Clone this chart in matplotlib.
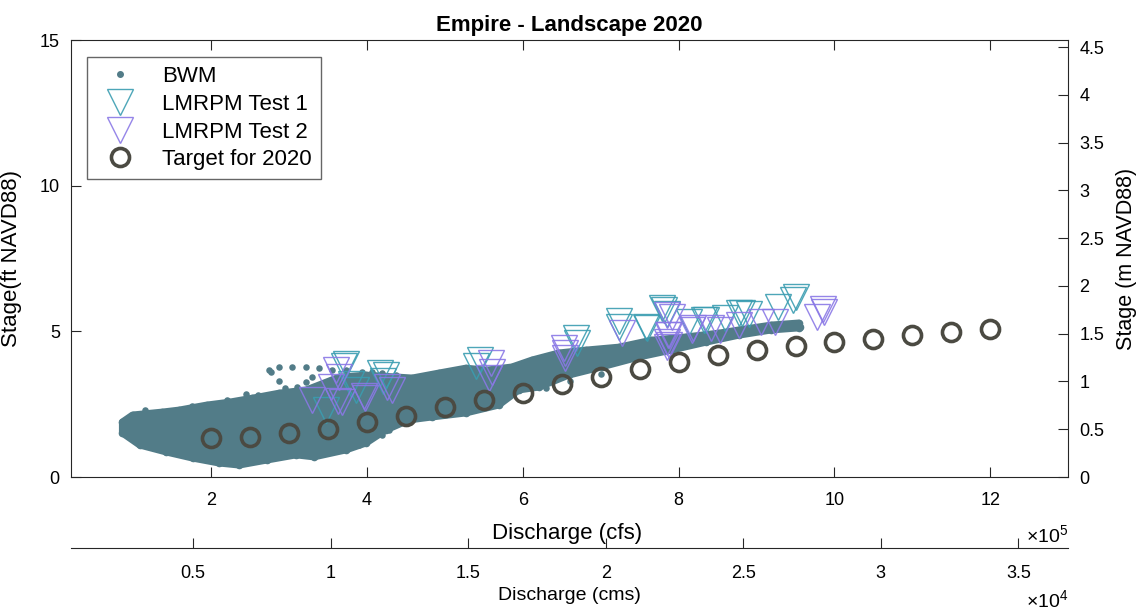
import matplotlib.pyplot as plt
import numpy as np

plt.rcParams['font.family'] = ['Liberation Sans', 'DejaVu Sans']
plt.rcParams['mathtext.fontset'] = 'custom'
plt.rcParams['mathtext.rm'] = 'Liberation Sans'

FT2M = 0.3048
CFS2CMS = 0.0283168

# BWM model cloud: outline of the dense band (discharge in 1e5 cfs, stage in ft)
bwm_outline_x = [0.86, 0.99, 1.37, 1.59, 1.94, 2.23, 2.53, 2.87, 3.22, 3.64, 3.99, 4.58,
                 4.92, 5.27, 5.53, 5.86, 6.12, 6.46, 6.81, 7.23, 7.65, 8.09, 8.51, 8.77,
                 9.19, 9.54, 9.56, 9.54, 9.19, 8.77, 8.35, 7.91, 7.49, 7.01, 6.59, 6.21,
                 5.95, 5.69, 5.27, 4.83, 4.54, 4.24, 3.99, 3.73, 3.32, 3.09, 2.71, 2.36,
                 2.10, 1.76, 1.42, 1.08, 0.86]
bwm_outline_y = [1.89, 2.13, 2.23, 2.30, 2.47, 2.57, 2.71, 2.88, 2.99, 3.43, 3.50, 3.40,
                 3.57, 3.74, 3.67, 3.78, 4.02, 4.26, 4.36, 4.46, 4.70, 4.81, 4.94, 5.05,
                 5.22, 5.29, 5.15, 5.12, 5.05, 4.87, 4.63, 4.36, 4.12, 3.78, 3.50, 3.09,
                 2.99, 2.47, 2.20, 2.06, 1.96, 1.61, 1.17, 0.93, 0.69, 0.76, 0.58, 0.41,
                 0.48, 0.65, 0.86, 1.10, 1.51]

# scattered BWM points outside the dense band
bwm_sparse_x = [2.74, 2.77, 2.87, 2.87, 3.04, 3.22, 3.38, 3.55, 3.73, 3.94, 4.06, 4.19,
                4.37, 4.58, 3.22, 3.29, 3.77, 3.90, 4.19, 4.28, 3.64, 2.45, 2.95, 3.10,
                1.15, 1.75, 2.20, 2.60, 6.30, 6.60, 7.00]
bwm_sparse_y = [3.67, 3.60, 3.78, 3.30, 3.78, 3.78, 3.74, 3.67, 3.67, 3.60, 3.60, 3.57,
                3.50, 3.33, 3.26, 3.43, 1.03, 1.10, 1.44, 1.61, 0.93, 2.85, 3.05, 3.10,
                2.30, 2.45, 2.65, 2.82, 3.05, 3.30, 3.55]

# LMRPM test runs
test1_x = [3.73, 3.70, 4.17, 4.24, 5.45, 5.40, 3.47, 3.86, 6.68, 6.69, 7.24, 7.24, 7.58,
           7.81, 7.85, 8.13, 8.35, 7.78, 7.59, 8.32, 8.60, 8.77, 8.81, 8.90, 9.27, 9.47,
           9.51, 3.80, 4.20]
test1_y = [3.88, 3.80, 3.57, 3.50, 4.02, 3.81, 2.30, 2.99, 4.77, 4.60, 5.36, 5.15, 5.15,
           5.73, 5.60, 5.32, 5.39, 5.80, 5.12, 5.39, 5.46, 5.63, 5.63, 5.60, 5.84, 6.08,
           6.18, 3.20, 3.30]
test2_x = [3.60, 3.64, 3.54, 3.29, 3.63, 3.68, 3.96, 3.97, 4.26, 4.32, 5.59, 5.60, 5.56,
           6.53, 6.54, 6.54, 7.27, 7.85, 7.87, 7.85, 7.85, 8.17, 8.42, 7.91, 7.86, 7.87,
           8.18, 8.53, 8.77, 9.06, 9.24, 9.77, 9.85, 9.87]
test2_y = [3.67, 3.43, 3.09, 2.64, 2.61, 2.57, 2.78, 2.71, 3.09, 2.99, 3.91, 3.60, 3.40,
           4.43, 4.26, 4.09, 4.94, 5.56, 4.87, 4.46, 4.63, 5.05, 5.12, 5.49, 4.87, 4.53,
           5.12, 5.05, 5.22, 5.32, 5.32, 5.49, 5.77, 5.66]

# 2020 target rating
target_x = [2, 2.5, 3, 3.5, 4, 4.5, 5, 5.5, 6, 6.5, 7, 7.5, 8, 8.5, 9, 9.5, 10, 10.5,
            11, 11.5, 12]
target_y = [1.34, 1.37, 1.50, 1.65, 1.90, 2.10, 2.40, 2.65, 2.90, 3.20, 3.45, 3.70,
            3.95, 4.20, 4.35, 4.50, 4.63, 4.73, 4.87, 4.98, 5.10]

bwm_col = '#527c88'
t1_col = '#3a9db1'
t2_col = '#8a78e6'
tgt_col = '#4b4a42'
axcol = '#262626'

fig = plt.figure(figsize=(11.41, 6.10), dpi=100)
ax = fig.add_axes([0.0622, 0.218, 0.874, 0.716])

sc = 1e5
ax.fill(np.array(bwm_outline_x) * sc, bwm_outline_y, color=bwm_col, lw=5,
        joinstyle='round', zorder=2)
ax.scatter(np.array(bwm_outline_x) * sc, bwm_outline_y, s=30, color=bwm_col,
           linewidths=0, zorder=2)
ax.scatter(np.array(bwm_sparse_x) * sc, bwm_sparse_y, s=22, color=bwm_col,
           linewidths=0, zorder=2)
ax.plot([], [], '.', color=bwm_col, ms=8, label='BWM')

ax.plot(np.array(test1_x) * sc, test1_y, 'v', ms=19, mfc='none', mec=t1_col,
        mew=1.0, alpha=0.9, ls='none', zorder=3, label='LMRPM Test 1')
ax.plot(np.array(test2_x) * sc, test2_y, 'v', ms=19, mfc='none', mec=t2_col,
        mew=1.0, alpha=0.9, ls='none', zorder=4, label='LMRPM Test 2')
ax.plot(np.array(target_x) * sc, target_y, 'o', ms=13, mfc='none', mec=tgt_col,
        mew=2.6, ls='none', zorder=5, label='Target for 2020')

ax.set_xlim(0.2e5, 13e5)
ax.set_ylim(0, 15)
ax.set_xticks(np.arange(2, 13, 2) * sc)
ax.set_xticklabels([str(v) for v in range(2, 13, 2)])
ax.set_yticks([0, 5, 10, 15])
ax.tick_params(direction='in', length=7, width=0.8, colors=axcol, labelsize=13,
               top=True, labelcolor='black')
ax.tick_params(axis='x', pad=11)
ax.tick_params(axis='y', pad=8)
for s in ax.spines.values():
    s.set_color(axcol)
    s.set_linewidth(0.8)

ax.set_xlabel('Discharge (cfs)', fontsize=16)
ax.xaxis.set_label_coords(0.497, -0.105)
ax.set_ylabel('Stage(ft NAVD88)', fontsize=16)
ax.yaxis.set_label_coords(-0.049, 0.5)
ax.set_title('Empire - Landscape 2020', fontsize=16, fontweight='bold', pad=7)
fig.text(0.936, 1 - 542 / 610, r'$\mathregular{\times10^{5}}$', ha='right',
         va='baseline', fontsize=14)

# metric stage on the right
ax2 = ax.twinx()
ax2.set_ylim(0, 15 * FT2M)
ax2.set_yticks(np.arange(0, 4.6, 0.5))
ax2.set_yticklabels([f'{v:g}' for v in np.arange(0, 4.6, 0.5)])
ax2.tick_params(direction='in', length=7, width=0.8, colors=axcol, labelsize=13,
                labelcolor='black', pad=8)
for s in ax2.spines.values():
    s.set_visible(False)
ax2.set_ylabel('Stage (m NAVD88)', fontsize=15.5, rotation=90)
ax2.yaxis.set_label_coords(1.048, 0.5)

# metric discharge below
secax = ax.secondary_xaxis(-0.1625, functions=(lambda x: x * CFS2CMS,
                                                lambda x: x / CFS2CMS))
secax.set_xticks(np.arange(0.5, 3.6, 0.5) * 1e4)
secax.set_xticklabels([f'{v:g}' for v in np.arange(0.5, 3.6, 0.5)])
secax.tick_params(direction='in', length=7, width=0.8, colors=axcol, labelsize=13,
                  labelcolor='black', pad=12)
secax.spines['bottom'].set_color(axcol)
secax.spines['bottom'].set_linewidth(0.8)
secax.set_xlabel('Discharge (cms)', fontsize=14, labelpad=4)
fig.text(0.936, 1 - 607 / 610, r'$\mathregular{\times10^{4}}$', ha='right',
         va='baseline', fontsize=14)

leg = ax.legend(loc='upper left', bbox_to_anchor=(0.016, 0.961), borderaxespad=0,
                fontsize=16, frameon=True, fancybox=False, labelspacing=0.3,
                handlelength=2.2, borderpad=0.4, handletextpad=0.8)
leg.get_frame().set_edgecolor('#404040')
leg.get_frame().set_linewidth(1.0)
leg.set_zorder(10)

fig.savefig('out.png', dpi=100)
